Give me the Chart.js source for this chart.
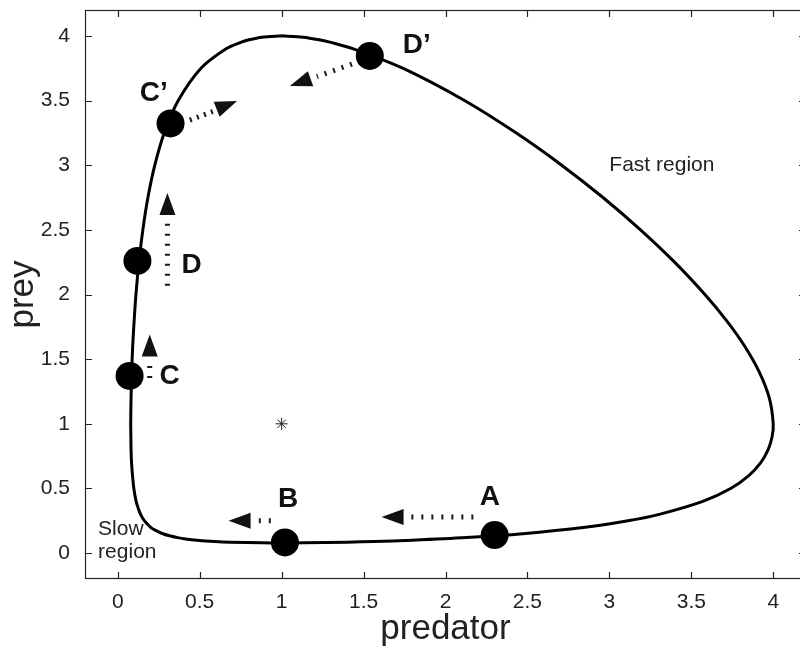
<!DOCTYPE html>
<html><head><meta charset="utf-8">
<script src="https://cdn.jsdelivr.net/npm/chart.js@4/dist/chart.umd.min.js"></script>
<style>
html,body{margin:0;padding:0;background:#fff;overflow:hidden;width:800px;height:648px}
#wrap{width:808px;height:648px}
</style></head>
<body><div id="wrap"><canvas id="c" width="808" height="648"></canvas></div>
<script>
// closed orbit (predator, prey)
const orbitPredator = [1.000,0.880,0.801,0.750,0.661,0.508,0.369,0.284,0.226,0.184,0.153,0.129,0.111,0.100,0.091,0.085,0.081,0.079,0.080,0.081,0.084,0.090,0.098,0.112,0.124,0.139,0.163,0.201,0.225,0.275,0.328,0.365,0.414,0.482,0.593,0.685,0.880,1.000,1.131,1.400,1.562,1.798,2.129,2.471,2.852,3.113,3.305,3.570,3.740,3.851,3.924,3.969,3.993,4.000,3.976,3.915,3.826,3.714,3.583,3.398,3.190,2.961,2.709,2.430,2.116,1.739,1.438,1.300,1.229,1.131,1.000];
const orbitPrey     = [4.000,3.990,3.970,3.950,3.900,3.750,3.500,3.250,3.000,2.750,2.500,2.250,2.000,1.800,1.600,1.400,1.200,1.000,0.900,0.800,0.700,0.600,0.500,0.400,0.350,0.300,0.250,0.200,0.180,0.150,0.130,0.120,0.110,0.100,0.090,0.085,0.080,0.079,0.080,0.085,0.090,0.100,0.120,0.150,0.200,0.250,0.300,0.400,0.500,0.600,0.700,0.800,0.900,1.000,1.200,1.400,1.600,1.800,2.000,2.250,2.500,2.750,3.000,3.250,3.500,3.750,3.900,3.950,3.970,3.990,4.000];

// marked states
const stateNames    = ['A','B','C','D','C’','D’'];
const statePredator = [2.30, 1.02, 0.072, 0.12, 0.322, 1.538];
const statePrey     = [0.14, 0.083, 1.37, 2.26, 3.323, 3.845];
const labelPredator = [2.27, 1.04, 0.317, 0.45, 0.22, 1.825];
const labelPrey     = [0.431, 0.42, 1.366, 2.225, 3.555, 3.93];

// equilibrium
const equilibriumPredator = [1];
const equilibriumPrey     = [1];

// arrows (dotted shaft + head), per state
const shaftFromX = [2.17, 0.934, 0.195, 0.303, 0.44, 1.429];
const shaftFromY = [0.28, 0.25, 1.354, 2.067, 3.349, 3.782];
const shaftToX   = [1.79, 0.855, 0.195, 0.303, 0.58, 1.215];
const shaftToY   = [0.28, 0.25, 1.447, 2.547, 3.415, 3.685];
const tipX       = [1.61, 0.676, 0.195, 0.303, 0.728, 1.05];
const tipY       = [0.28, 0.25, 1.691, 2.785, 3.496, 3.612];

// region notes
const noteLines = [['Fast region'], ['Slow','region']];
const noteX = [3.0, -0.12];
const noteY = [3.0, 0.1];

// ticks
const xTicks = [0,0.5,1,1.5,2,2.5,3,3.5,4];
const xTickLabels = ['0','0.5','1','1.5','2','2.5','3','3.5','4'];
const yTicks = [0,0.5,1,1.5,2,2.5,3,3.5,4];
const yTickLabels = ['0','0.5','1','1.5','2','2.5','3','3.5','4'];

const FONT = "'Liberation Sans', Arial, Helvetica, sans-serif";
Chart.defaults.font.family = FONT;

const dashes = [[2,8],[2,8],[2,8],[2,8],[2,5.5],[2,7]];
const shaftSets = shaftFromX.map((_, i) => ({
  data: [{x: shaftFromX[i], y: shaftFromY[i]}, {x: shaftToX[i], y: shaftToY[i]}],
  showLine: true, pointRadius: 0, borderWidth: 5, borderColor: '#1a1a1a',
  borderDash: dashes[i], borderCapStyle: 'butt'
}));

function noEdgePadding(s) {
  s.paddingLeft = 0; s.paddingRight = 0; s.paddingTop = 0; s.paddingBottom = 0;
}

const overlay = {
  id: 'overlay',
  afterDatasetsDraw(chart) {
    const {ctx, scales: {x, y}} = chart;
    ctx.save();
    ctx.fillStyle = '#111';
    for (let i = 0; i < tipX.length; i++) {
      const tx = x.getPixelForValue(tipX[i]), ty = y.getPixelForValue(tipY[i]);
      const sx = x.getPixelForValue(shaftFromX[i]), sy = y.getPixelForValue(shaftFromY[i]);
      let dx = tx - sx, dy = ty - sy; const L = Math.hypot(dx, dy); dx /= L; dy /= L;
      const bx = tx - 22 * dx, by = ty - 22 * dy;
      ctx.beginPath();
      ctx.moveTo(tx, ty);
      ctx.lineTo(bx - 8 * dy, by + 8 * dx);
      ctx.lineTo(bx + 8 * dy, by - 8 * dx);
      ctx.closePath(); ctx.fill();
    }
    ctx.fillStyle = '#111';
    ctx.font = 'bold 28px ' + FONT;
    ctx.textAlign = 'center'; ctx.textBaseline = 'middle';
    stateNames.forEach((t, i) => ctx.fillText(t, x.getPixelForValue(labelPredator[i]), y.getPixelForValue(labelPrey[i])));
    ctx.fillStyle = '#222';
    ctx.font = '21px ' + FONT;
    ctx.textAlign = 'left';
    noteLines.forEach((lines, i) => {
      const px = x.getPixelForValue(noteX[i]), py = y.getPixelForValue(noteY[i]);
      const lh = 23, start = py - (lines.length - 1) * lh / 2;
      lines.forEach((ln, k) => ctx.fillText(ln, px, start + k * lh));
    });
    ctx.restore();
  },
  afterDraw(chart) {
    const {ctx, chartArea: a, scales: {x, y}} = chart;
    ctx.save();
    ctx.strokeStyle = '#222'; ctx.lineWidth = 1.2;
    ctx.strokeRect(a.left + 0.5, a.top + 0.5, a.right - a.left - 1, a.bottom - a.top - 1);
    ctx.beginPath();
    xTicks.forEach(v => {
      const p = Math.round(x.getPixelForValue(v)) + 0.5;
      ctx.moveTo(p, a.bottom); ctx.lineTo(p, a.bottom - 7);
      ctx.moveTo(p, a.top); ctx.lineTo(p, a.top + 7);
    });
    yTicks.forEach(v => {
      const p = Math.round(y.getPixelForValue(v)) + 0.5;
      ctx.moveTo(a.left, p); ctx.lineTo(a.left + 7, p);
      ctx.moveTo(a.right, p); ctx.lineTo(a.right - 7, p);
    });
    ctx.stroke();
    ctx.restore();
  }
};

new Chart(document.getElementById('c'), {
  type: 'scatter',
  data: {
    datasets: [
      { data: statePredator.map((v, i) => ({x: v, y: statePrey[i]})), pointRadius: 14, pointHoverRadius: 14,
        backgroundColor: '#000', borderColor: '#000', borderWidth: 0 },
      { data: equilibriumPredator.map((v, i) => ({x: v, y: equilibriumPrey[i]})), pointStyle: 'star', pointRadius: 6,
        borderColor: '#222', backgroundColor: '#222', borderWidth: 1 },
      ...shaftSets,
      { data: orbitPredator.map((v, i) => ({x: v, y: orbitPrey[i]})), showLine: true, pointRadius: 0,
        borderColor: '#000', borderWidth: 3, tension: 0.3, fill: false }
    ]
  },
  options: {
    responsive: false, animation: false, events: [],
    layout: { autoPadding: false, padding: { left: 0, top: 10, right: 2, bottom: 0 } },
    plugins: { legend: { display: false }, tooltip: { enabled: false } },
    scales: {
      x: {
        type: 'linear', min: -0.2, max: 4.2,
        grid: { display: false }, border: { display: false },
        afterBuildTicks: s => { s.ticks = xTicks.map(v => ({value: v})); },
        afterFit: s => { s.height = 69; noEdgePadding(s); },
        ticks: { autoSkip: false, maxRotation: 0, padding: 3, color: '#222', font: { size: 21 },
                 callback: (v, i) => xTickLabels[i] },
        title: { display: true, text: 'predator', color: '#222', font: { size: 35 }, padding: { top: 0, bottom: -2 } }
      },
      y: {
        type: 'linear', min: -0.2, max: 4.2,
        grid: { display: false }, border: { display: false },
        afterBuildTicks: s => { s.ticks = yTicks.map(v => ({value: v})); },
        afterFit: s => { s.width = 85; noEdgePadding(s); },
        ticks: { autoSkip: false, padding: 7, color: '#222', font: { size: 21 },
                 callback: (v, i) => yTickLabels[i] },
        title: { display: true, text: 'prey', color: '#222', font: { size: 35 }, padding: { top: 2, bottom: 0 } }
      }
    }
  },
  plugins: [overlay]
});
</script>
</body></html>
